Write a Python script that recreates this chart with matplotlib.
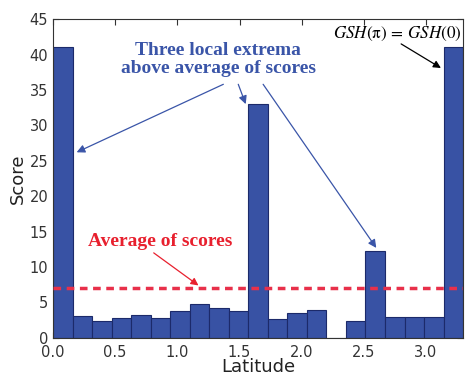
import numpy as np
import matplotlib
matplotlib.use("Agg")
import matplotlib.pyplot as plt

# Data
bin_width = np.pi / 20
scores = [41.0, 3.1, 2.4, 2.75, 3.2, 2.8, 3.8, 4.85, 4.2, 3.8, 33.0,
          2.7, 3.5, 3.9, 0.0, 2.35, 12.3, 3.0, 3.0, 3.0, 41.0]
average_score = 7.0
x_ticks = [0.0, 0.5, 1.0, 1.5, 2.0, 2.5, 3.0]
y_ticks = [0, 5, 10, 15, 20, 25, 30, 35, 40, 45]

lefts = np.arange(len(scores)) * bin_width

plt.rcParams['mathtext.fontset'] = 'stix'
fig = plt.figure(figsize=(4.65, 3.75), dpi=100)
ax = fig.add_axes([0.114, 0.099, 0.882, 0.85])

ax.bar(lefts, scores, width=bin_width, align='edge', color='#3852A4',
       edgecolor='#1c2a6a', linewidth=0.8, zorder=2)
ax.axhline(average_score, color='#E8304A', linestyle=(0, (2.2, 1.6)),
           linewidth=2.5, zorder=3)

ax.set_xlim(0, len(scores) * bin_width)
ax.set_ylim(0, 45)
ax.set_xticks(x_ticks)
ax.set_xticklabels([f"{t:.1f}" for t in x_ticks])
ax.set_yticks(y_ticks)
ax.tick_params(direction='in', top=True, right=True, labelsize=10.5,
               colors='#333333', length=4)
ax.tick_params(axis='x', pad=5)
for s in ax.spines.values():
    s.set_color('#333333')
ax.set_xlabel('Latitude', fontsize=13, color='#222222', labelpad=-1)
ax.set_ylabel('Score', fontsize=13, color='#222222', labelpad=2)

blue = '#3A55A8'
serif = ['Liberation Serif', 'DejaVu Serif']
ax.text(1.33, 39.3, 'Three local extrema\nabove average of scores',
        ha='center', va='center', color=blue, fontsize=14,
        fontweight='bold', family=serif, linespacing=1.15)
arrow_kw = dict(arrowstyle='-|>', color=blue, lw=0.9,
                mutation_scale=12, shrinkA=0, shrinkB=0)
ax.annotate('', xy=(0.19, 26.2), xytext=(1.37, 35.8), arrowprops=arrow_kw)
ax.annotate('', xy=(1.55, 33.0), xytext=(1.49, 35.8), arrowprops=arrow_kw)
ax.annotate('', xy=(2.6, 12.7), xytext=(1.69, 35.8), arrowprops=arrow_kw)

red = '#E8202E'
ax.text(0.86, 13.6, 'Average of scores', ha='center', va='center',
        color=red, fontsize=14, fontweight='bold', family=serif)
ax.annotate('', xy=(1.17, 7.4), xytext=(0.81, 12.0),
            arrowprops=dict(arrowstyle='-|>', color=red, lw=0.9,
                            mutation_scale=11, shrinkA=0, shrinkB=0))

ax.text(2.77, 42.9, r'$GSH(\mathrm{\pi})\,=\,GSH(0)$', ha='center',
        va='center', color='black', fontsize=12.3)
ax.annotate('', xy=(3.12, 38.1), xytext=(2.80, 41.5),
            arrowprops=dict(arrowstyle='-|>', color='black', lw=0.9,
                            mutation_scale=11, shrinkA=0, shrinkB=0))

fig.savefig('out.png', dpi=100)
